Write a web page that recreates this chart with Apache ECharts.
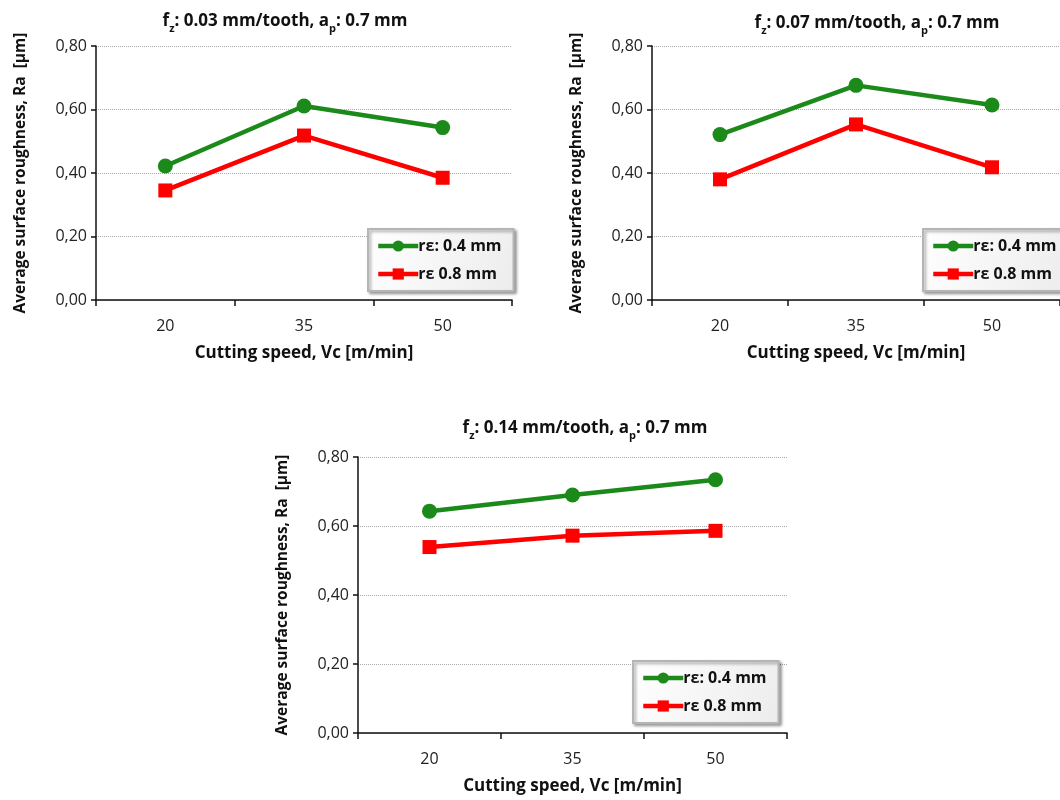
<!DOCTYPE html>
<html lang="en">
<head>
<meta charset="utf-8">
<title>Surface roughness</title>
<script src="https://cdn.jsdelivr.net/npm/echarts@6/dist/echarts.min.js"></script>
<style>
  html, body { margin: 0; padding: 0; background: #fff; }
  #main { width: 1060px; height: 800px; }
</style>
</head>
<body>
<div id="main"></div>
<script>
// cutting speed categories (m/min)
var speeds = ['20', '35', '50'];
// feed per tooth of each panel (mm/tooth)
var feeds = ['0.03', '0.07', '0.14'];
var seriesNames = ['rε: 0.4 mm', 'rε 0.8 mm'];
// Ra values, um
var ra04 = [
  [0.422, 0.611, 0.543],
  [0.521, 0.676, 0.614],
  [0.643, 0.690, 0.734]
];
var ra08 = [
  [0.345, 0.518, 0.385],
  [0.380, 0.553, 0.418],
  [0.539, 0.572, 0.586]
];

var font = '"Open Sans", "Liberation Sans", sans-serif';
var green = '#1b8a1b', red = '#ff0000';

// panel boxes (plot area) and legend spots
var panels = [
  { left: 96,  top: 46,  width: 416, height: 254, tx: 280, ty: 3,   lx: 368, ly: 229 },
  { left: 652, top: 46,  width: 414, height: 254, tx: 872, ty: 5,   lx: 923, ly: 229 },
  { left: 358, top: 457, width: 429, height: 276, tx: 580, ty: 410, lx: 633, ly: 661 }
];

var chart = echarts.init(document.getElementById('main'));
var option = { backgroundColor: '#fff', animation: false,
  title: [], grid: [], xAxis: [], yAxis: [], legend: [], series: [] };

panels.forEach(function (p, i) {
  option.title.push({
    text: '{b|f}{s|z}{b|: ' + feeds[i] + ' mm/tooth, a}{s|p}{b|: 0.7 mm}',
    left: p.tx, top: p.ty, textAlign: 'center',
    textStyle: {
      rich: {
        b: { fontFamily: font, fontWeight: 'bold', fontSize: 17, color: '#111', lineHeight: 26 },
        s: { fontFamily: font, fontWeight: 'bold', fontSize: 11, color: '#111', lineHeight: 10, verticalAlign: 'bottom' }
      }
    }
  });
  option.grid.push({ left: p.left, top: p.top, width: p.width, height: p.height, containLabel: false });
  option.xAxis.push({
    type: 'category', gridIndex: i, data: speeds, boundaryGap: true,
    name: 'Cutting speed, Vc [m/min]', nameLocation: 'middle', nameGap: 45,
    nameTextStyle: { fontFamily: font, fontWeight: 'bold', fontSize: 17, color: '#111' },
    axisLine: { lineStyle: { color: '#111', width: 1.5 } },
    axisTick: { show: true, length: 6, lineStyle: { color: '#111', width: 1.5 } },
    axisLabel: { fontFamily: font, fontSize: 16, color: '#222', margin: 18 },
    splitLine: { show: false }
  });
  option.yAxis.push({
    type: 'value', gridIndex: i, min: 0, max: 0.8, interval: 0.2,
    name: 'Average surface roughness, Ra  [µm]', nameLocation: 'middle', nameGap: 67,
    nameTextStyle: { fontFamily: font, fontWeight: 'bold', fontSize: 15.5, color: '#111' },
    axisLine: { show: true, lineStyle: { color: '#111', width: 1.5 } },
    axisTick: { show: true, length: 5, lineStyle: { color: '#111', width: 1.5 } },
    axisLabel: { fontFamily: font, fontSize: 16, color: '#222', margin: 9,
      formatter: function (v) { return v.toFixed(2).replace('.', ','); } },
    splitLine: { show: true, lineStyle: { color: '#a8a8a8', type: 'dotted', width: 1 } }
  });
  option.legend.push({
    left: p.lx, top: p.ly, orient: 'vertical',
    data: seriesNames, itemWidth: 40, itemHeight: 14, itemGap: 12,
    padding: [9, 12, 9, 8],
    lineStyle: { width: 4.5 },
    backgroundColor: new echarts.graphic.LinearGradient(0, 0, 1, 1, [
      { offset: 0, color: '#ffffff' }, { offset: 1, color: '#ececec' }]),
    borderColor: '#b5b5b5', borderWidth: 2,
    shadowColor: 'rgba(0,0,0,0.35)', shadowBlur: 3, shadowOffsetX: 2, shadowOffsetY: 2,
    textStyle: { fontFamily: font, fontWeight: 'bold', fontSize: 16, color: '#111', padding: [0, 0, 0, -5] }
  });
  option.series.push({
    name: seriesNames[0], type: 'line', xAxisIndex: i, yAxisIndex: i, data: ra04[i],
    color: green, lineStyle: { width: 4.5, color: green },
    symbol: 'circle', symbolSize: 15, itemStyle: { color: green }
  });
  option.series.push({
    name: seriesNames[1], type: 'line', xAxisIndex: i, yAxisIndex: i, data: ra08[i],
    color: red, lineStyle: { width: 4.5, color: red },
    symbol: 'rect', symbolSize: 14, itemStyle: { color: red }
  });
});

chart.setOption(option);
</script>
</body>
</html>
